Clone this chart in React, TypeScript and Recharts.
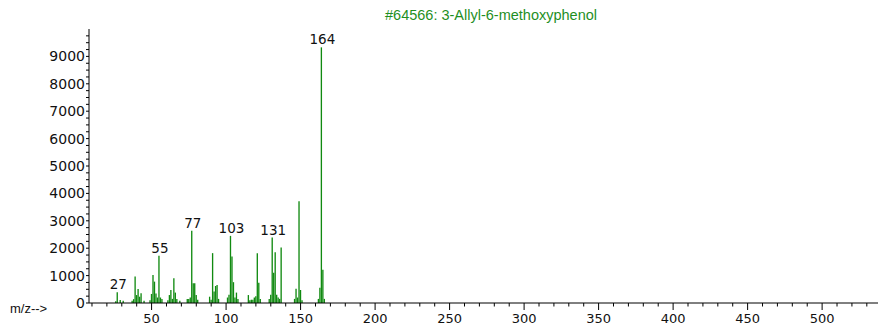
import React from 'react';
import { BarChart, Bar, XAxis, YAxis, LabelList } from 'recharts';

// m/z positions and abundances
const mzValues = [
  26, 27, 29, 31, 37, 38, 39, 40, 41, 42, 43, 45, 49, 50, 51, 52, 53, 54, 55, 56, 57,
  61, 62, 63, 64, 65, 66, 67, 69, 74, 75, 76, 77, 78, 79, 80, 81, 89, 90, 91, 92, 93,
  94, 95, 101, 102, 103, 104, 105, 106, 107, 108, 115, 116, 117, 118, 119, 120, 121,
  122, 123, 129, 130, 131, 132, 133, 134, 135, 136, 137, 146, 147, 148, 149, 150, 151,
  162, 163, 164, 165, 166,
];
const abundances = [
  60, 390, 110, 80, 80, 140, 965, 290, 510, 230, 355, 80, 100, 330, 1025, 780, 350, 200, 1720, 200, 150,
  100, 290, 475, 150, 900, 380, 150, 80, 150, 150, 200, 2640, 720, 720, 290, 120, 230, 120, 1820, 420, 620,
  660, 150, 200, 300, 2450, 1700, 760, 200, 380, 150, 290, 100, 120, 120, 200, 250, 1820,
  740, 150, 150, 300, 2390, 1100, 1850, 300, 200, 150, 2025, 150, 520, 200, 3710, 475, 100,
  150, 560, 9330, 1210, 150,
];
const labelledPeaks = [27, 55, 77, 103, 131, 164];
const xLabelTicks = [50, 100, 150, 200, 250, 300, 350, 400, 450, 500];
const yLabelTicks = [0, 1000, 2000, 3000, 4000, 5000, 6000, 7000, 8000, 9000];

const xTicks = Array.from({ length: 53 }, (_, i) => 10 + i * 10);
const yTicks = Array.from({ length: 40 }, (_, i) => i * 250);

const data = mzValues.map((mz, i) => ({
  mz,
  abundance: abundances[i],
  label: labelledPeaks.includes(mz) ? String(mz) : '',
}));

const font = '"DejaVu Sans", sans-serif';

const XTick = ({ x, y, payload }: any) => {
  const major = xLabelTicks.includes(payload.value);
  return (
    <g>
      <line x1={x} x2={x} y1={y} y2={y + (major ? 7 : 3.5)} stroke="#000" />
      {major && (
        <text x={x} y={y + 19.5} textAnchor="middle" fontFamily={font} fontSize={13} fill="#111">
          {payload.value}
        </text>
      )}
    </g>
  );
};

const YTick = ({ x, y, payload }: any) => {
  const major = yLabelTicks.includes(payload.value);
  return (
    <g>
      <line x1={x - 3} x2={x} y1={y} y2={y} stroke="#000" />
      {major && (
        <text x={x - 4} y={y + 5} textAnchor="end" fontFamily={font} fontSize={14} fill="#111">
          {payload.value}
        </text>
      )}
    </g>
  );
};

const PeakLabel = ({ x, y, width, value }: any) => {
  if (!value) return null;
  return (
    <text x={x + width / 2 + 1} y={y - 3} textAnchor="middle" fontFamily={font} fontSize={13.5} fill="#111">
      {value}
    </text>
  );
};

export default function App() {
  return (
    <div style={{ position: 'absolute', left: 0, top: 0, width: 878, height: 325, background: '#fff' }}>
      <div
        style={{
          position: 'absolute',
          left: 491,
          top: 7,
          transform: 'translateX(-50%)',
          whiteSpace: 'nowrap',
          color: '#1f8f1f',
          fontFamily: '"Liberation Sans", Arial, sans-serif',
          fontSize: 14.5,
        }}
      >
        #64566: 3-Allyl-6-methoxyphenol
      </div>
      <div
        style={{
          position: 'absolute',
          left: 10,
          top: 301,
          whiteSpace: 'nowrap',
          color: '#111',
          fontFamily: '"Liberation Sans", Arial, sans-serif',
          fontSize: 13,
        }}
      >
        m/z--&gt;
      </div>
      <BarChart width={878} height={325} data={data} margin={{ top: 29, right: 0, left: 30, bottom: 0 }}>
        <XAxis
          dataKey="mz"
          type="number"
          domain={[8, 537.5]}
          allowDataOverflow
          ticks={xTicks}
          interval={0}
          tick={<XTick />}
          tickLine={false}
          tickSize={0}
          tickMargin={0}
          height={22}
          axisLine={{ stroke: '#000' }}
        />
        <YAxis
          type="number"
          domain={[0, 10000]}
          ticks={yTicks}
          interval={0}
          tick={<YTick />}
          tickLine={false}
          tickSize={0}
          tickMargin={0}
          width={59}
          axisLine={{ stroke: '#000' }}
        />
        <Bar dataKey="abundance" fill="#118a11" barSize={1.6} isAnimationActive={false}>
          <LabelList dataKey="label" content={<PeakLabel />} />
        </Bar>
      </BarChart>
    </div>
  );
}
